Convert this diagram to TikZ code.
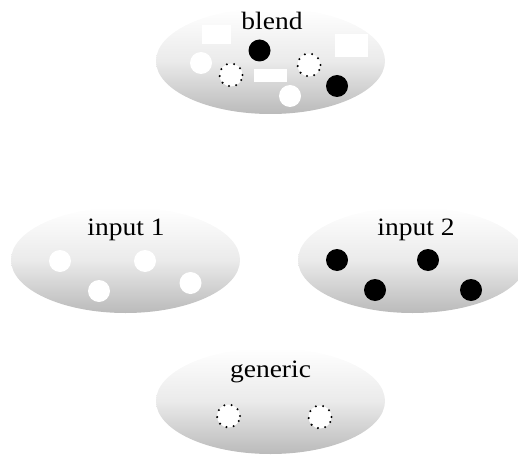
\documentclass[tikz,border=0pt]{standalone}
\usepackage{fontspec}
\setmainfont{Liberation Serif}
\usetikzlibrary{shapes.geometric}
\tikzset{
  space/.style={ellipse, minimum width=229pt, minimum height=106pt, inner sep=0pt,
    top color=white, bottom color=black!27, middle color=black!8, shading angle=0},
  lbl/.style={font=\fontsize{25}{27}\selectfont, xscale=1.1, inner sep=0pt},
  wdot/.style={circle, fill=white, minimum size=22pt, inner sep=0pt},
  bdot/.style={circle, fill=black, minimum size=22pt, inner sep=0pt},
  gdot/.style={circle, fill=white, draw=black, minimum size=23pt, inner sep=0pt,
    line width=2.3pt, dash pattern=on 0pt off 7.4pt, line cap=round},
  wbox/.style={rectangle, fill=white, inner sep=0pt}
}
\begin{document}
\begin{tikzpicture}[x=1pt,y=-1pt]
\useasboundingbox (0,0) rectangle (518,457);
\clip (0,0) rectangle (518,457);
% spaces
\node[space] (blend) at (270.5,61) {};
\node[space] (in1) at (125.5,260) {};
\node[space] (in2) at (412.5,260) {};
\node[space] (gen) at (270.5,401) {};
% labels
\node[lbl] (tblend) at (272,21) {blend};
\node[lbl] (tin1) at (126,230) {input 1};
\node[lbl] (tin2) at (416,230) {input 2};
\node[lbl] (tgen) at (270.5,372) {generic};
% blend contents
\node[wbox, minimum width=29pt, minimum height=19pt] (b1) at (216.5,34.5) {};
\node[bdot] (b2) at (259.5,50.5) {};
\node[wdot] (b3) at (201,63) {};
\node[gdot] (b4) at (231,75) {};
\node[wbox, minimum width=33pt, minimum height=13pt] (b5) at (270.5,75.5) {};
\node[gdot] (b6) at (309,65) {};
\node[wbox, minimum width=33pt, minimum height=23pt] (b7) at (351.5,45.5) {};
\node[wdot] (b8) at (290,96) {};
\node[bdot] (b9) at (337,86) {};
% input 1 contents
\node[wdot] (i1a) at (60,261) {};
\node[wdot] (i1b) at (99,291) {};
\node[wdot] (i1c) at (145,261) {};
\node[wdot] (i1d) at (190.5,283) {};
% input 2 contents
\node[bdot] (i2a) at (337,260) {};
\node[bdot] (i2b) at (375,290) {};
\node[bdot] (i2c) at (428,260) {};
\node[bdot] (i2d) at (471,290) {};
% generic contents
\node[gdot] (g1) at (228.5,416) {};
\node[gdot] (g2) at (320,417) {};
\end{tikzpicture}
\end{document}
